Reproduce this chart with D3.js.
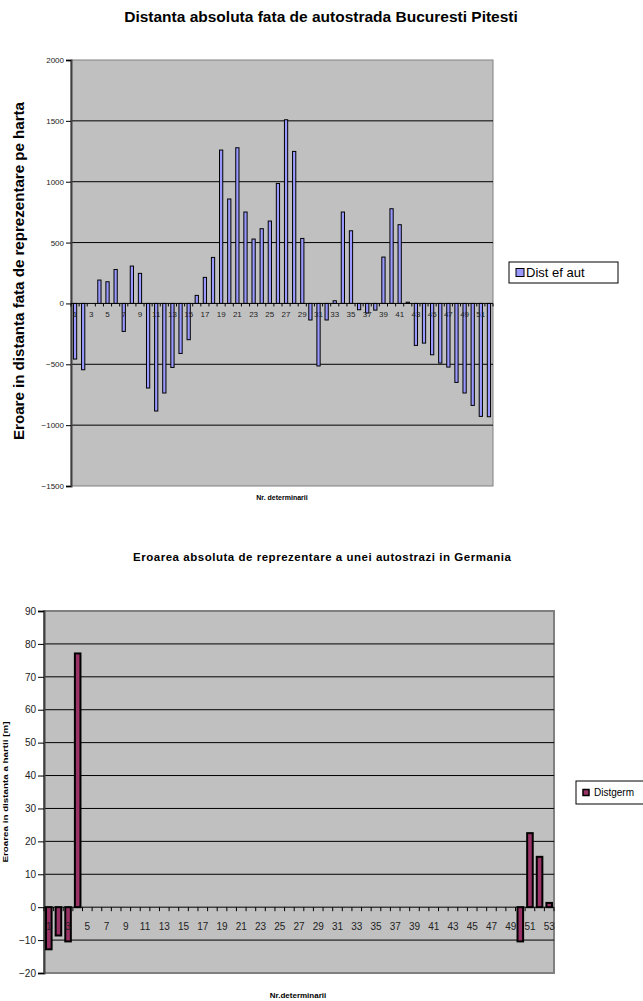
<!DOCTYPE html>
<html>
<head>
<meta charset="utf-8">
<script src="https://cdn.jsdelivr.net/npm/d3@7"></script>
<style>
  html, body { margin: 0; padding: 0; background: #fff; }
  svg { display: block; font-family: "Liberation Sans", Arial, sans-serif; }
</style>
</head>
<body>
<svg id="chart" width="643" height="1001"></svg>
<script>
// Chart 1: absolute distance error, Bucuresti - Pitesti motorway
const titleRo = "Distanta absoluta fata de autostrada Bucuresti Pitesti";
const yTitleRo = "Eroare in distanta fata de reprezentare pe harta";
const xTitleRo = "Nr. determinarii";
const seriesRo = "Dist ef aut";
const valuesRo = [
  -457, -545, 0, 192, 178, 279, -230, 307, 247, -695,
  -884, -736, -526, -411, -298, 66, 214, 378, 1260, 858,
  1279, 751, 529, 614, 677, 986, 1509, 1249, 534, -136,
  -514, -136, 22, 751, 597, -52, -79, -55, 381, 778,
  647, 10, -345, -326, -422, -490, -523, -649, -736, -838,
  -928, -931
];
const yTicksRo = [-1500, -1000, -500, 0, 500, 1000, 1500, 2000];

// Chart 2: absolute error of a motorway in Germany
const titleDe = "Eroarea absoluta de reprezentare a unei autostrazi in Germania";
const yTitleDe = "Eroarea in distanta a hartii [m]";
const xTitleDe = "Nr.determinarii";
const seriesDe = "Distgerm";
const valuesDe = [
  -12.8, -8.6, -10.4, 77.1, 0, 0, 0, 0, 0, 0,
  0, 0, 0, 0, 0, 0, 0, 0, 0, 0,
  0, 0, 0, 0, 0, 0, 0, 0, 0, 0,
  0, 0, 0, 0, 0, 0, 0, 0, 0, 0,
  0, 0, 0, 0, 0, 0, 0, 0, 0, -10.4,
  22.5, 15.3, 1.3
];
const yTicksDe = [-20, -10, 0, 10, 20, 30, 40, 50, 60, 70, 80, 90];

const svg = d3.select("#chart");

function drawChart(cfg) {
  const g = svg.append("g");
  const cats = cfg.values.map((_, i) => i + 1);
  const x = d3.scaleBand().domain(cats).range([cfg.left, cfg.right])
    .paddingInner(cfg.pad).paddingOuter(cfg.pad / 2);
  const y = d3.scaleLinear().domain(cfg.yDomain).range([cfg.bottom, cfg.top]);

  // plot area
  g.append("rect")
    .attr("x", cfg.left).attr("y", cfg.top)
    .attr("width", cfg.right - cfg.left).attr("height", cfg.bottom - cfg.top)
    .attr("fill", "#c0c0c0").attr("stroke", "#808080").attr("stroke-width", cfg.borderW);

  // gridlines
  g.append("g").selectAll("line")
    .data(cfg.yTicks.filter(t => t !== 0 && t !== cfg.yDomain[0] && t !== cfg.yDomain[1]))
    .join("line")
    .attr("x1", cfg.left).attr("x2", cfg.right)
    .attr("y1", d => y(d)).attr("y2", d => y(d))
    .attr("stroke", "#000").attr("stroke-width", 1);

  // y axis
  const yAxis = g.append("g")
    .attr("transform", `translate(${cfg.left},0)`)
    .call(d3.axisLeft(y).tickValues(cfg.yTicks).tickSize(cfg.yTickLen).tickPadding(2).tickFormat(d3.format("d")));
  yAxis.select(".domain").attr("stroke", "#404040").attr("stroke-width", 2);
  yAxis.selectAll(".tick line").attr("stroke", "#000");
  yAxis.selectAll(".tick text").attr("font-size", cfg.yFont).attr("fill", "#222")
    .attr("font-family", "Liberation Sans, Arial, sans-serif");

  // bars
  g.append("g").selectAll("rect")
    .data(cfg.values)
    .join("rect")
    .attr("x", (d, i) => x(i + 1))
    .attr("width", x.bandwidth())
    .attr("y", d => y(Math.max(0, d)))
    .attr("height", d => Math.abs(y(d) - y(0)))
    .attr("fill", cfg.color)
    .attr("stroke", "#000")
    .attr("stroke-width", cfg.barStroke);

  // category axis on the zero line, ticks between categories
  const y0 = y(0);
  g.append("line")
    .attr("x1", cfg.left).attr("x2", cfg.right)
    .attr("y1", y0).attr("y2", y0)
    .attr("stroke", "#000").attr("stroke-width", 1);
  g.append("g").selectAll("line")
    .data(d3.range(cats.length + 1))
    .join("line")
    .attr("x1", i => cfg.left + i * x.step())
    .attr("x2", i => cfg.left + i * x.step())
    .attr("y1", y0).attr("y2", y0 + cfg.xTickLen)
    .attr("stroke", "#000").attr("stroke-width", 1);

  const xAxis = g.append("g")
    .attr("transform", `translate(0,${y0})`)
    .call(d3.axisBottom(x).tickValues(cats.filter(c => c % 2 === 1)).tickSize(0).tickPadding(cfg.xLabelPad));
  xAxis.select(".domain").remove();
  xAxis.selectAll(".tick text").attr("font-size", cfg.xFont).attr("fill", "#222")
    .attr("font-family", "Liberation Sans, Arial, sans-serif");

  // titles
  const t = g.append("text")
    .attr("x", cfg.titleX).attr("y", cfg.titleY)
    .attr("text-anchor", "middle").attr("font-weight", "bold")
    .attr("font-size", cfg.titleFont).attr("fill", "#000")
    .text(cfg.title);
  if (cfg.titleLen) t.attr("textLength", cfg.titleLen).attr("lengthAdjust", "spacing");

  g.append("text")
    .attr("transform", `translate(${cfg.yTitleX},${cfg.yTitleY}) rotate(-90)`)
    .attr("text-anchor", "middle").attr("font-weight", "bold")
    .attr("font-size", cfg.yTitleFont).attr("fill", "#000")
    .attr("textLength", cfg.yTitleLen).attr("lengthAdjust", "spacingAndGlyphs")
    .text(cfg.yTitle);

  g.append("text")
    .attr("x", cfg.xTitleX).attr("y", cfg.xTitleY)
    .attr("text-anchor", "middle").attr("font-weight", "bold")
    .attr("font-size", cfg.xTitleFont).attr("fill", "#000")
    .text(cfg.xTitle);

  // legend
  const lg = g.append("g");
  lg.append("rect")
    .attr("x", cfg.legend.x).attr("y", cfg.legend.y)
    .attr("width", cfg.legend.w).attr("height", cfg.legend.h)
    .attr("fill", "#fff").attr("stroke", "#000").attr("stroke-width", 1);
  lg.append("rect")
    .attr("x", cfg.legend.x + cfg.legend.sx).attr("y", cfg.legend.y + (cfg.legend.h - cfg.legend.s) / 2)
    .attr("width", cfg.legend.s).attr("height", cfg.legend.s)
    .attr("fill", cfg.color).attr("stroke", "#000").attr("stroke-width", cfg.legend.sw);
  lg.append("text")
    .attr("x", cfg.legend.x + cfg.legend.tx).attr("y", cfg.legend.y + cfg.legend.h / 2)
    .attr("dy", "0.36em")
    .attr("font-size", cfg.legend.font).attr("fill", "#000")
    .text(cfg.series);
}

drawChart({
  values: valuesRo, yTicks: yTicksRo, yDomain: [-1500, 2000],
  left: 71, right: 493, top: 60, bottom: 486,
  pad: 0.6, color: "#9999ff", barStroke: 1, borderW: 1,
  yTickLen: 5, yFont: 8, xTickLen: 3, xLabelPad: 8, xFont: 8,
  title: titleRo, titleX: 321, titleY: 22, titleFont: 15.5,
  yTitle: yTitleRo, yTitleX: 24, yTitleY: 271, yTitleFont: 14, yTitleLen: 338,
  xTitle: xTitleRo, xTitleX: 282, xTitleY: 500, xTitleFont: 7,
  series: seriesRo,
  legend: { x: 509, y: 262, w: 109, h: 21, sx: 7, s: 8, sw: 1, tx: 17, font: 13 }
});

drawChart({
  values: valuesDe, yTicks: yTicksDe, yDomain: [-20, 90],
  left: 44, right: 554, top: 611, bottom: 973,
  pad: 0.42, color: "#993366", barStroke: 2, borderW: 2,
  yTickLen: 6, yFont: 10, xTickLen: 4, xLabelPad: 16, xFont: 10,
  title: titleDe, titleX: 322, titleY: 561, titleFont: 11.5, titleLen: 378,
  yTitle: yTitleDe, yTitleX: 8, yTitleY: 792, yTitleFont: 8, yTitleLen: 141,
  xTitle: xTitleDe, xTitleX: 298, xTitleY: 998, xTitleFont: 8,
  series: seriesDe,
  legend: { x: 576, y: 781, w: 70, h: 23, sx: 7, s: 6, sw: 1.5, tx: 18, font: 10 }
});
</script>
</body>
</html>
